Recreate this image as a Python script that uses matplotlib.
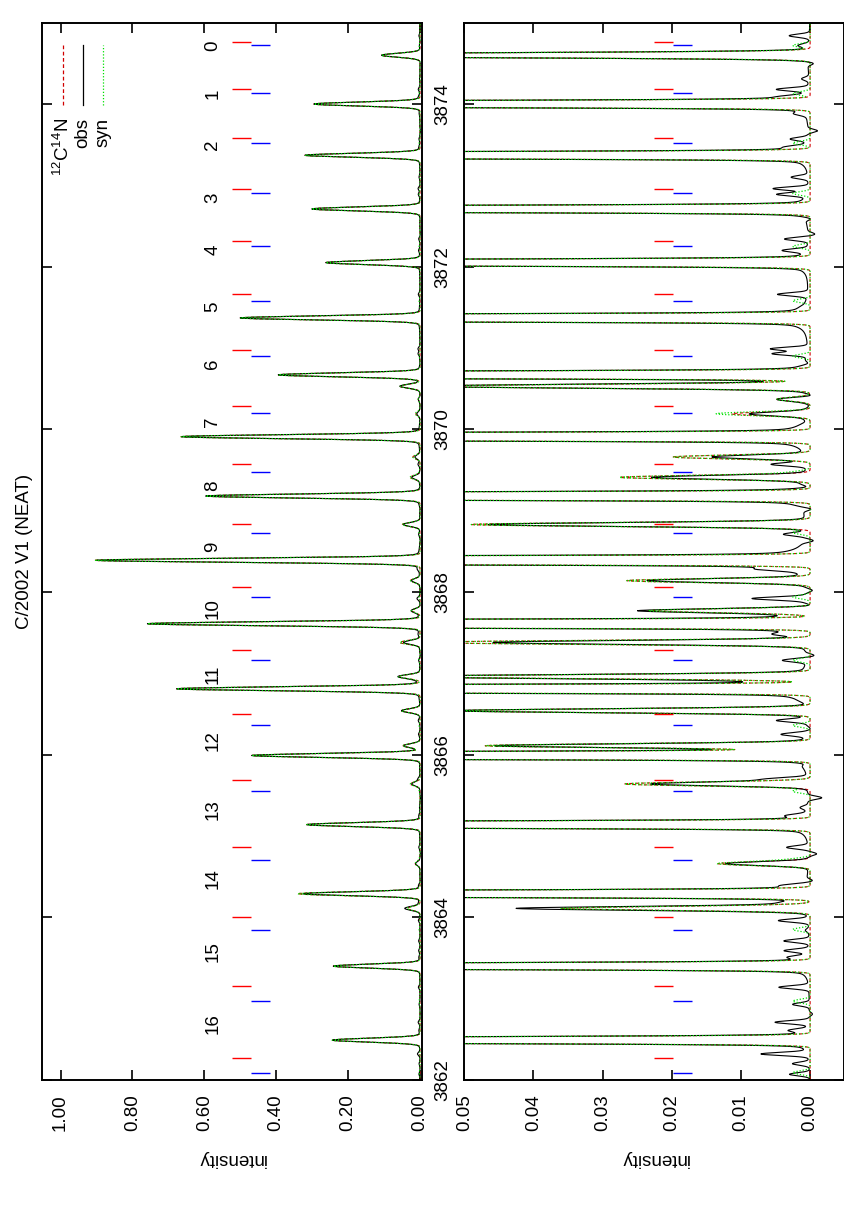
import numpy as np
import matplotlib
matplotlib.use("Agg")
import matplotlib.pyplot as plt

plt.rcParams['font.family'] = ['Liberation Sans', 'DejaVu Sans']
plt.rcParams['mathtext.default'] = 'regular'
plt.rcParams['font.size'] = 13.5

# rotational number of the R-branch lines and where their labels sit (Angstrom)
N_labels = [str(n) for n in range(17)]
label_wl = [3874.72, 3874.12, 3873.50, 3872.85, 3872.21, 3871.51, 3870.81, 3870.09, 3869.31,
            3868.55, 3867.80, 3866.99, 3866.17, 3865.33, 3864.48, 3863.58, 3862.69]

# line position marks (red / blue)
red_wl = [3874.76, 3874.19, 3873.58, 3872.96, 3872.32, 3871.66, 3870.98, 3870.29, 3869.57,
          3868.84, 3868.06, 3867.29, 3866.50, 3865.69, 3864.86, 3864.01, 3863.15, 3862.27]
blue_wl = [3874.72, 3874.13, 3873.52, 3872.90, 3872.25, 3871.58, 3870.90, 3870.20, 3869.47,
           3868.73, 3867.94, 3867.16, 3866.36, 3865.55, 3864.71, 3863.85, 3862.97, 3862.09]

# strong emission lines: centre, observed peak, model peak
peak_wl = [3874.60, 3874.00, 3873.37, 3872.71, 3872.05, 3871.37, 3870.67, 3869.91, 3869.18,
           3868.39, 3867.61, 3866.81, 3865.99, 3865.14, 3864.29, 3863.40, 3862.49]
peak_obs = [0.107, 0.295, 0.320, 0.301, 0.262, 0.500, 0.394, 0.663, 0.596,
            0.899, 0.758, 0.677, 0.468, 0.315, 0.325, 0.241, 0.244]
peak_mod = [0.107, 0.295, 0.320, 0.301, 0.262, 0.500, 0.394, 0.665, 0.596,
            0.905, 0.758, 0.677, 0.468, 0.315, 0.340, 0.241, 0.244]

# weaker 12C14N lines
weak_wl = [3870.53, 3870.37, 3870.19, 3869.66, 3869.41, 3868.83, 3868.14, 3867.77,
           3867.38, 3866.96, 3866.54, 3866.11, 3865.64, 3864.66, 3864.11]
weak_mod = [0.055, 0.0048, 0.0113, 0.0198, 0.0275, 0.049, 0.0265, 0.0234,
            0.056, 0.060, 0.051, 0.047, 0.0268, 0.0133, 0.036]
weak_obs = [0.055, 0.0044, 0.0082, 0.0135, 0.0222, 0.046, 0.0227, 0.0234,
            0.045, 0.060, 0.051, 0.044, 0.0227, 0.012, 0.042]

# faint extra lines only in the full synthetic spectrum
iso_syn = [0.0025] * len(blue_wl)

# small wiggles of the observed spectrum
resid_wl = [3874.84, 3874.72, 3874.50, 3874.31, 3874.18, 3874.09, 3873.88, 3873.67, 3873.57,
            3873.47, 3873.10, 3872.96, 3872.89, 3872.59, 3872.40, 3872.34, 3872.20, 3871.66,
            3871.50, 3870.99, 3870.93, 3870.81, 3870.41, 3870.29, 3870.09, 3869.57, 3869.29,
            3869.02, 3868.71, 3868.63, 3868.28, 3868.02, 3867.92, 3867.83, 3867.48, 3867.22,
            3867.16, 3866.91, 3866.62, 3866.42, 3866.32, 3866.25, 3865.89, 3865.70,
            3865.47, 3865.35, 3865.25, 3864.86, 3864.78, 3864.45, 3864.39, 3864.18, 3863.96,
            3863.84, 3863.71, 3863.59, 3863.51, 3863.26, 3863.14, 3862.93, 3862.81, 3862.71,
            3862.61, 3862.32, 3862.20, 3862.07]
resid_obs = [0.0029, 0.0014, -0.0010, 0.0010, 0.0044, 0.0031, 0.0014, -0.0014, 0.0024,
             0.0024, 0.0024, 0.0050, 0.0043, -0.0010, -0.0010, 0.0034, 0.0034, 0.0043,
             0.0002, 0.0053, 0.0050, -0.0007, -0.0014, -0.0003, -0.0003, 0.0050, -0.0017,
             -0.0014, 0.0031, -0.0014, 0.0044, -0.0010, 0.0077, -0.0014, 0.0031, -0.0012,
             0.0034, 0.0036, -0.0005, 0.0043, -0.0005, 0.0036, -0.0010, 0.0053,
             -0.0020, 0.0010, 0.0024, 0.0031, -0.0012, -0.0010, 0.0029, 0.0026, 0.0043,
             0.0005, 0.0036, 0.0034, 0.0024, 0.0000, 0.0043, 0.0024, -0.0005, 0.0048,
             0.0024, 0.0067, 0.0024, 0.0029]

wl = np.linspace(3861.8, 3875.2, 9000)


def lines(centres, heights, fwhm=0.056, eta=0.0):
    d = (wl[:, None] - np.asarray(centres)[None, :]) / fwhm
    shape = (1 - eta) * np.exp(-4 * np.log(2) * d ** 2) + eta / (1 + 4 * d ** 2)
    return shape @ np.asarray(heights)


cn12 = lines(peak_wl, peak_mod) + lines(weak_wl, weak_mod)
syn = cn12 + lines(blue_wl, iso_syn, fwhm=0.05)
obs = (lines(peak_wl, peak_obs, eta=0.06) + lines(weak_wl, weak_obs, eta=0.06)
       + lines(resid_wl, resid_obs, fwhm=0.045))

W, H = 845, 1207
fig = plt.figure(figsize=(W / 100, H / 100), dpi=100)
ax1 = fig.add_axes([42 / W, 127 / H, 379.7 / W, 1057.3 / H])
ax2 = fig.add_axes([464.3 / W, 127 / H, 379.7 / W, 1057.3 / H])

for ax in (ax1, ax2):
    ax.plot(cn12, wl, color='#d00000', ls=(0, (3, 2)), lw=0.8)
    ax.plot(obs, wl, color='black', lw=0.8)
    ax.plot(syn, wl, color='#00e000', ls=(0, (1, 1.5)), lw=0.9)
    ax.hlines(red_wl, 0.50, 0.55, transform=ax.get_yaxis_transform(), colors='red', lw=1)
    ax.hlines(blue_wl, 0.55, 0.60, transform=ax.get_yaxis_transform(), colors='blue', lw=1)
    ax.set_ylim(3862, 3875)
    ax.set_yticks(range(3862, 3875, 2))
    ax.tick_params(direction='in', length=7, width=1.2, top=True, right=True)
    ax.tick_params(axis='x', labelrotation=90, pad=10)
    ax.set_xlabel('intensity', rotation=180, labelpad=14)
    for s in ax.spines.values():
        s.set_linewidth(1.4)

ax1.set_xlim(1.0515, -0.0047)
ax1.set_xticks(np.arange(0, 1.01, 0.2))
ax1.set_xticklabels([f'{v:.2f}' for v in np.arange(0, 1.01, 0.2)])
ax1.tick_params(axis='y', labelleft=False, labelright=True, labelrotation=90, pad=9)
for t in ax1.get_yticklabels():
    t.set_va('center')

ax2.set_xlim(0.05, -0.0049)
ax2.set_xticks(np.arange(0, 0.051, 0.01))
ax2.set_xticklabels([f'{v:.2f}' for v in np.arange(0, 0.051, 0.01)])
ax2.tick_params(axis='y', labelleft=False)

for n, w in zip(N_labels, label_wl):
    ax1.text(0.45, w, n, rotation=90, ha='center', va='center',
             transform=ax1.get_yaxis_transform())

# key
key = [(0.055, dict(color='#d00000', ls=(0, (3, 2))), '$^{12}$C$^{14}$N'),
       (0.108, dict(color='black', ls='-'), 'obs'),
       (0.161, dict(color='#00e000', ls=(0, (1, 1.5))), 'syn')]
for xf, st, txt in key:
    ax1.plot([xf, xf], [0.922, 0.979], transform=ax1.transAxes, lw=0.9, **st)
    ax1.text(xf, 0.91, txt, rotation=90, ha='center', va='top', transform=ax1.transAxes)

fig.text(25 / W, 1 - 551 / H, 'C/2002 V1 (NEAT)', rotation=90, ha='center', va='center')

fig.savefig('out.png', dpi=100)
